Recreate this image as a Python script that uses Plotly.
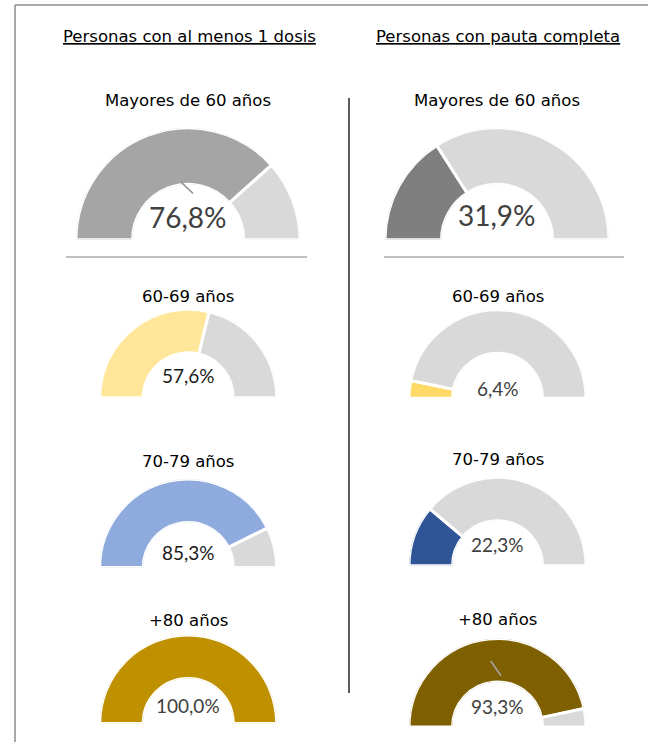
import plotly.graph_objects as go

# ---------------- data ----------------
column_titles = ["Personas con al menos 1 dosis", "Personas con pauta completa"]
groups = ["Mayores de 60 años", "60-69 años", "70-79 años", "+80 años"]
una_dosis = [76.8, 57.6, 85.3, 100.0]
pauta_completa = [31.9, 6.4, 22.3, 93.3]
colors_una = ["#a5a5a5", "#ffe699", "#8faadc", "#bf9000"]
colors_pauta = ["#7f7f7f", "#ffd966", "#2f5597", "#7f6000"]
rest_color = "#d9d9d9"

# ---------------- layout geometry (pixels) ----------------
W, H = 648, 742
# per column, per gauge: (cx, bottom_y, outer_r, inner_r, title_y, pct_y, pct_size, pct_color)
geom = [
    [
        (188, 238.3, 110.5, 57, 100, 216.5, 28, "#404040"),
        (188.2, 396.3, 87, 46.5, 297, 375, 19, "#1a1a1a"),
        (188.2, 566, 87, 46.5, 461, 552, 19, "#1a1a1a"),
        (188.2, 722, 87, 46.5, 620.5, 705, 19, "#404040"),
    ],
    [
        (497, 238.3, 110.5, 57, 100, 215, 28, "#404040"),
        (497.5, 396.7, 87, 46.5, 297, 388.3, 19, "#404040"),
        (497.5, 564.3, 87, 46.5, 459.5, 544.5, 19, "#404040"),
        (497.5, 725.5, 87, 46.5, 619.5, 706.5, 19, "#404040"),
    ],
]
header_x = [189, 498]
header_y = 36.5


def fx(x):
    return x / W


def fy(y):
    return 1 - y / H


def fmt(v):
    return f"{v:.1f}".replace(".", ",") + "%"


fig = go.Figure()
annotations = []
polars = {}
k = 0
series = [(una_dosis, colors_una), (pauta_completa, colors_pauta)]
for c, (vals, cols) in enumerate(series):
    annotations.append(dict(
        x=fx(header_x[c]), y=fy(header_y), xref="paper", yref="paper",
        text=column_titles[c], showarrow=False, xanchor="center", yanchor="middle",
        font=dict(family="DejaVu Sans", size=16.5, color="black", lineposition="under"),
    ))
    for i, v in enumerate(vals):
        k += 1
        cx, by, ro, ri, ty, py, psz, pcol = geom[c][i]
        parts = [v, 100 - v]
        pcolors = [cols[i], rest_color]
        thetas, widths, cc = [], [], []
        start = 0.0
        for p, col in zip(parts, pcolors):
            w = p * 1.8
            if p > 0:
                thetas.append(start + w / 2)
                widths.append(w)
                cc.append(col)
            start += w
        name = "polar" if k == 1 else f"polar{k}"
        fig.add_trace(go.Barpolar(
            r=[1] * len(thetas), theta=thetas, width=widths,
            marker=dict(color=cc, line=dict(color="white", width=3)),
            subplot=name, hoverinfo="skip", showlegend=False,
        ))
        P = ro + 1.5
        hole = (ri - 1.5) / P
        bottom = by + 1.5
        polars[name] = dict(
            domain=dict(x=[fx(cx - P), fx(cx + P)], y=[fy(bottom), fy(bottom - P)]),
            sector=[0, 180], hole=hole, bgcolor="rgba(0,0,0,0)",
            radialaxis=dict(range=[0, 1], visible=False, showgrid=False),
            angularaxis=dict(visible=False, rotation=180, direction="clockwise",
                             showgrid=False, thetaunit="degrees"),
        )
        annotations.append(dict(
            x=fx(cx), y=fy(ty), xref="paper", yref="paper", text=groups[i],
            showarrow=False, xanchor="center", yanchor="middle",
            font=dict(family="DejaVu Sans", size=16.5, color="black"),
        ))
        annotations.append(dict(
            x=fx(cx), y=fy(py), xref="paper", yref="paper", text=fmt(v),
            showarrow=False, xanchor="center", yanchor="middle",
            font=dict(family="Lato", size=psz, color=pcol),
        ))

shapes = [
    # outer frame
    dict(type="line", xref="paper", yref="paper", x0=fx(15), x1=fx(15), y0=fy(5), y1=fy(742),
         line=dict(color="#8c8c8c", width=1.5)),
    dict(type="line", xref="paper", yref="paper", x0=fx(15), x1=fx(648), y0=fy(5), y1=fy(5),
         line=dict(color="#8c8c8c", width=1.5)),
    # vertical divider
    dict(type="line", xref="paper", yref="paper", x0=fx(349), x1=fx(349), y0=fy(98), y1=fy(693),
         line=dict(color="#262626", width=1.5)),
    # horizontal separators
    dict(type="line", xref="paper", yref="paper", x0=fx(66), x1=fx(307), y0=fy(257), y1=fy(257),
         line=dict(color="#bfbfbf", width=2)),
    dict(type="line", xref="paper", yref="paper", x0=fx(384), x1=fx(624), y0=fy(257), y1=fy(257),
         line=dict(color="#bfbfbf", width=2)),
    # small needle marks
    dict(type="line", xref="paper", yref="paper", x0=fx(181.5), x1=fx(193), y0=fy(182.5), y1=fy(193.5),
         line=dict(color="#8c8c8c", width=1.5)),
    dict(type="line", xref="paper", yref="paper", x0=fx(490.7), x1=fx(501), y0=fy(661), y1=fy(675.7),
         line=dict(color="#a6a6a6", width=1.5)),
]

fig.update_layout(
    width=W, height=H, margin=dict(l=0, r=0, t=0, b=0),
    paper_bgcolor="white", plot_bgcolor="white",
    annotations=annotations, shapes=shapes, showlegend=False,
    **polars,
)

fig.write_html("out.html")
